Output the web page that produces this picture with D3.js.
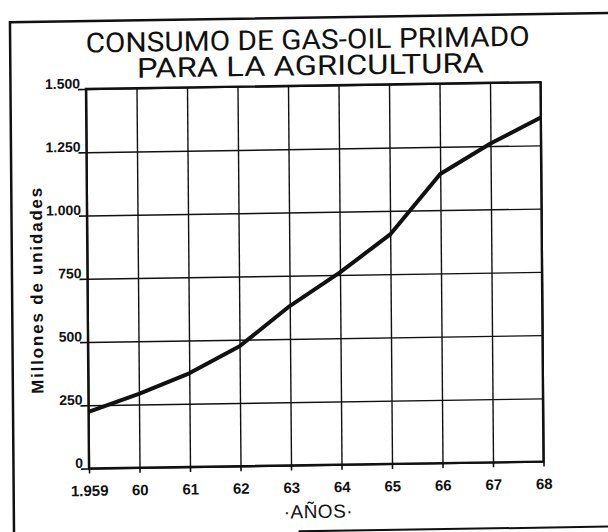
<!DOCTYPE html>
<html><head><meta charset="utf-8">
<script src="https://cdn.jsdelivr.net/npm/d3@7"></script>
<style>html,body{margin:0;padding:0;background:#fff;} svg{display:block;}</style>
</head><body>
<svg id="chart" width="608" height="532"></svg>
<script>
// ---- data ----
const years = [1959, 1960, 1961, 1962, 1963, 1964, 1965, 1966, 1967, 1968];
const xTickLabels = ["1.959", "60", "61", "62", "63", "64", "65", "66", "67", "68"];
const consumo = [224, 292, 370, 474, 630, 760, 907, 1143, 1260, 1360];
const yTicks = [0, 250, 500, 750, 1000, 1250, 1500];
const yTickLabels = ["0", "250", "500", "750", "1.000", "1.250", "1.500"];
const titleLines = ["CONSUMO DE GAS-OIL PRIMADO", "PARA LA AGRICULTURA"];
const yTitle = "Millones de unidades";
const xTitle = "·AÑOS·";

// ---- drawing ----
const svg = d3.select("#chart");
svg.append("rect").attr("width", 608).attr("height", 532).attr("fill", "#fff");
// slight skew like the scanned original
const g = svg.append("g").attr("transform", "matrix(1,-0.0152,0.0079,1,-0.70,1.31)");

const M = {left: 86, right: 540.5, top: 89, bottom: 468.5};
const x = d3.scaleLinear().domain([1959, 1968]).range([M.left, M.right]);
const y = d3.scaleLinear().domain([0, 1500]).range([M.bottom, M.top]);
const ink = "#111";
const FONT = "'Liberation Sans', Arial, sans-serif";

// outer frame
g.append("path").attr("d", "M10.5,545 V21 H625")
  .attr("fill", "none").attr("stroke", ink).attr("stroke-width", 2.5);
g.append("path").attr("d", "M295,534.5 H625")
  .attr("fill", "none").attr("stroke", ink).attr("stroke-width", 2);

// title (two lines)
g.selectAll("text.title").data(titleLines).join("text")
  .attr("class", "title")
  .attr("x", (d, i) => i === 0 ? 308 : 310.5)
  .attr("y", (d, i) => i === 0 ? 52.5 : 78.5)
  .attr("text-anchor", "middle")
  .attr("textLength", (d, i) => i === 0 ? 444 : 347)
  .attr("lengthAdjust", "spacingAndGlyphs")
  .attr("font-family", "Roboto, " + FONT)
  .attr("font-weight", 400)
  .attr("font-size", 27.5).attr("fill", ink)
  .text(d => d);

// vertical grid
const gx = g.append("g").attr("transform", `translate(0,${M.bottom})`)
  .call(d3.axisBottom(x).tickValues(years).tickSize(-(M.bottom - M.top)).tickFormat(""));
gx.select(".domain").remove();
gx.selectAll("line").attr("stroke", ink).attr("stroke-width", 1.4);

// horizontal grid
const gy = g.append("g").attr("transform", `translate(${M.left},0)`)
  .call(d3.axisLeft(y).tickValues(yTicks).tickSize(-(M.right - M.left)).tickFormat(""));
gy.select(".domain").remove();
gy.selectAll("line").attr("stroke", ink).attr("stroke-width", 1.4);

// y axis labels with small ticks
const ay = g.append("g").attr("transform", `translate(${M.left},0)`)
  .call(d3.axisLeft(y).tickValues(yTicks).tickSize(8).tickFormat((d, i) => yTickLabels[i]));
ay.select(".domain").remove();
ay.selectAll("line").attr("stroke", ink).attr("stroke-width", 1.6);
ay.selectAll("text").attr("x", -6).attr("dy", "-0.08em")
  .attr("font-family", FONT)
  .attr("font-weight", "bold").attr("font-size", 14).attr("fill", ink);

// x axis labels with small ticks
const ax = g.append("g").attr("transform", `translate(0,${M.bottom})`)
  .call(d3.axisBottom(x).tickValues(years).tickSize(5).tickFormat((d, i) => xTickLabels[i]));
ax.select(".domain").remove();
ax.selectAll("line").attr("stroke", ink).attr("stroke-width", 1.6);
ax.selectAll("text").attr("y", 27.5).attr("dy", 0)
  .attr("font-family", FONT)
  .attr("font-weight", "bold").attr("font-size", 15).attr("fill", ink);

// plot border
g.append("rect").attr("x", M.left).attr("y", M.top)
  .attr("width", M.right - M.left).attr("height", M.bottom - M.top)
  .attr("fill", "none").attr("stroke", ink).attr("stroke-width", 2.4);

// data line
const line = d3.line().x((d, i) => x(years[i])).y(d => y(d));
g.append("path").datum(consumo).attr("d", line)
  .attr("fill", "none").attr("stroke", ink).attr("stroke-width", 4)
  .attr("stroke-linejoin", "round");

// axis titles
g.append("text")
  .attr("transform", "translate(41,290) rotate(-90)")
  .attr("text-anchor", "middle")
  .attr("textLength", 206).attr("lengthAdjust", "spacing")
  .attr("font-family", FONT)
  .attr("font-weight", "bold").attr("font-size", 17).attr("fill", ink)
  .text(yTitle);

g.append("text")
  .attr("x", 315).attr("y", 521.5)
  .attr("text-anchor", "middle")
  .attr("font-family", FONT)
  .attr("font-size", 19).attr("letter-spacing", 0.5).attr("fill", ink)
  .text(xTitle);
</script>
</body></html>
